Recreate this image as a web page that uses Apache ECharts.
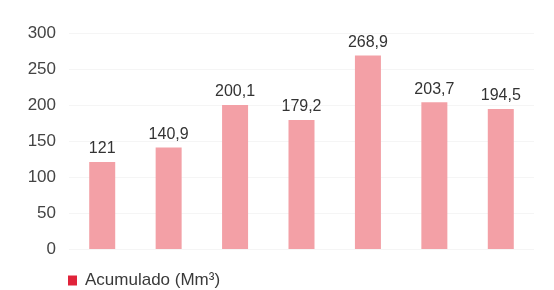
<!DOCTYPE html>
<html>
<head>
<meta charset="utf-8">
<script src="https://cdn.jsdelivr.net/npm/echarts@6/dist/echarts.min.js"></script>
<style>
  html, body { margin: 0; padding: 0; background: #fff; }
  #chart { width: 554px; height: 290px; }
</style>
</head>
<body>
<div id="chart"></div>
<script>
  // data
  var categories = ['1', '2', '3', '4', '5', '6', '7']
  var acumulado = [121, 140.9, 200.1, 179.2, 268.9, 203.7, 194.5]
  var yTicks = [0, 50, 100, 150, 200, 250, 300]
  var seriesName = 'Acumulado (Mm³)'

  var chart = echarts.init(document.getElementById('chart'))
  var options = {
    animation: false,
    textStyle: { fontFamily: 'Liberation Sans, Arial, sans-serif' },
    grid: {
      left: 69,
      right: 20,
      top: 33,
      bottom: 41
    },
    legend: {
      left: 63,
      top: 267,
      itemWidth: 9,
      itemHeight: 10,
      icon: 'rect',
      textStyle: { fontSize: 17, color: '#3a3a3a', padding: [0, 0, 0, 3] },
      data: [{ name: seriesName, itemStyle: { color: '#e0233a' } }]
    },
    xAxis: {
      type: 'category',
      data: categories,
      axisTick: { show: false },
      axisLine: { show: false },
      axisLabel: { show: false },
      splitLine: { show: false }
    },
    yAxis: {
      type: 'value',
      min: yTicks[0],
      max: yTicks[yTicks.length - 1],
      interval: 50,
      axisLine: { show: false },
      axisTick: { show: false },
      axisLabel: { color: '#444', fontSize: 17, margin: 13 },
      splitLine: { show: true, lineStyle: { color: '#f5f5f5' } }
    },
    series: [{
      name: seriesName,
      type: 'bar',
      data: acumulado,
      barWidth: 26,
      itemStyle: { color: '#f3a0a6' },
      label: {
        show: true,
        position: 'top',
        distance: 5,
        color: '#333',
        fontSize: 16,
        formatter: function (p) {
          return String(p.value).replace('.', ',')
        }
      }
    }]
  }
  chart.setOption(options, true)
</script>
</body>
</html>
